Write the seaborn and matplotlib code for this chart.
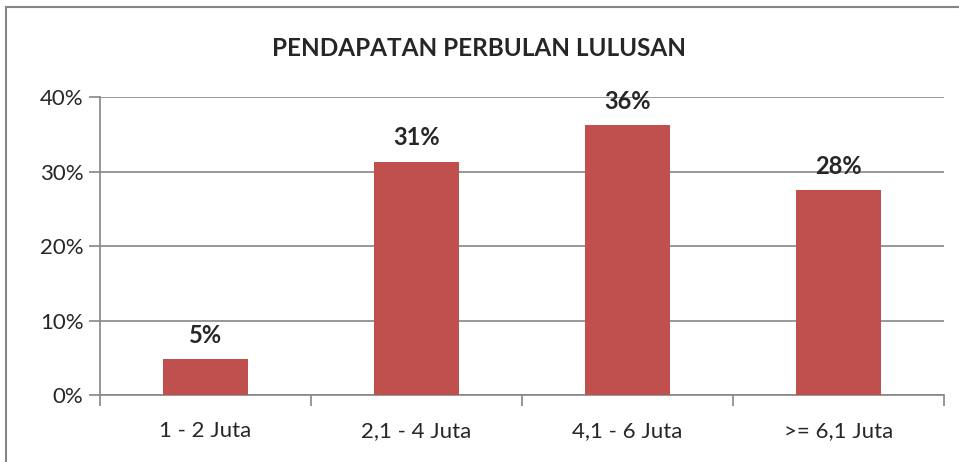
import matplotlib
matplotlib.use("Agg")
import matplotlib.pyplot as plt
import seaborn as sns
import pandas as pd
from matplotlib.patches import Rectangle
from matplotlib.ticker import FuncFormatter, FixedLocator

# ------------------------------------------------------------
# Data
# ------------------------------------------------------------
categories = ["1 - 2 Juta", "2,1 - 4 Juta", "4,1 - 6 Juta", ">= 6,1 Juta"]
shares = [0.048, 0.313, 0.362, 0.275]
labels = ["5%", "31%", "36%", "28%"]
y_ticks = [0.0, 0.1, 0.2, 0.3, 0.4]

title = "PENDAPATAN PERBULAN LULUSAN"

BAR_COLOR = "#C0504D"
GRID_COLOR = "#868686"

sns.set_style("white")
plt.rcParams["font.family"] = ["Lato", "DejaVu Sans"]

df = pd.DataFrame({"Kategori": categories, "Persen": shares})

fig = plt.figure(figsize=(9.59, 4.62), dpi=100)
ax = fig.add_axes([0.1043, 0.145, 0.8801, 0.645])

sns.barplot(data=df, x="Kategori", y="Persen", order=categories,
            color=BAR_COLOR, saturation=1, width=0.4, ax=ax, zorder=3,
            linewidth=0)

ax.set_xlim(-0.5, len(categories) - 0.5)
ax.set_ylim(0, 0.4)
ax.set_yticks(y_ticks)
ax.yaxis.set_major_formatter(FuncFormatter(lambda v, _: f"{v:.0%}"))
ax.grid(axis="y", color=GRID_COLOR, linewidth=1.2, zorder=0)
ax.set_axisbelow(True)

# category boundary ticks on x
ax.xaxis.set_minor_locator(FixedLocator([i - 0.5 for i in range(len(categories) + 1)]))
ax.tick_params(axis="x", which="major", length=0, pad=19, labelsize=16)
ax.tick_params(axis="x", which="minor", length=8, width=1.2, color=GRID_COLOR,
               direction="out", bottom=True)
ax.tick_params(axis="y", which="major", length=8, width=1.2, color=GRID_COLOR,
               direction="out", left=True, labelsize=16, pad=4)

for side in ["top", "right"]:
    ax.spines[side].set_visible(False)
for side in ["left", "bottom"]:
    ax.spines[side].set_color(GRID_COLOR)
    ax.spines[side].set_linewidth(1.2)

ax.set_xlabel("")
ax.set_ylabel("")

# data labels above bars
for i, (v, lab) in enumerate(zip(shares, labels)):
    ax.annotate(lab, (i, v), xytext=(0, 9), textcoords="offset points",
                ha="center", va="bottom", fontsize=17, fontweight="bold")

fig.text(0.5, 0.896, title, ha="center", va="center",
         fontsize=17.5, fontweight="bold")

# chart frame
fig.patches.append(Rectangle((0.006, -0.01), 1.2, 0.995, transform=fig.transFigure,
                             fill=False, edgecolor=GRID_COLOR, linewidth=1.5))

fig.savefig("out.png", dpi=100)
